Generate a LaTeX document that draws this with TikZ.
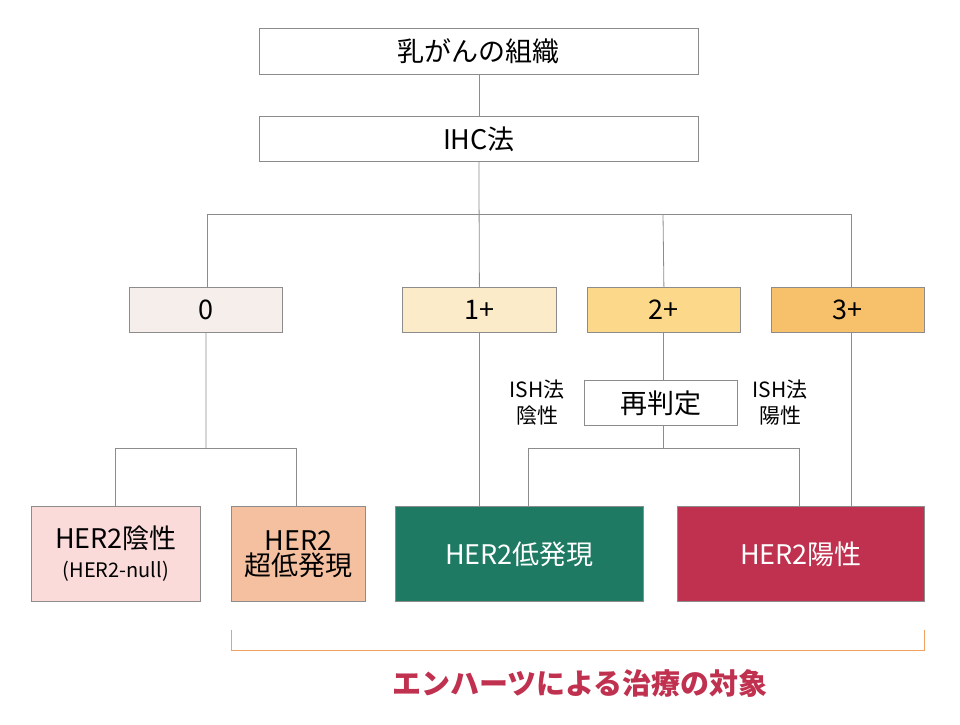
\documentclass[tikz,border=0pt]{standalone}
\usepackage{fontspec}
\setmainfont{Noto Sans CJK JP}
\begin{document}
\begin{tikzpicture}[x=1pt,y=-1pt,
 box/.style={draw=black!45,line width=0.8pt,anchor=north west,inner sep=0pt,font=\fontsize{27}{31}\selectfont,align=center},
 ln/.style={draw=black!45,line width=0.8pt}]
\useasboundingbox (0,0) rectangle (960,724);
\definecolor{c0}{HTML}{F5EEEA}\definecolor{c1}{HTML}{FCEBC8}
\definecolor{c2}{HTML}{FCD88A}\definecolor{c3}{HTML}{F7C06A}
\definecolor{cn}{HTML}{FBDADA}\definecolor{cu}{HTML}{F5C0A0}
\definecolor{cg}{HTML}{1E7A62}\definecolor{cr}{HTML}{C0304F}
\definecolor{brk}{HTML}{F0A060}
\node[box,minimum width=439,minimum height=46] (top) at (259,28) {乳がんの組織};
\node[box,minimum width=439,minimum height=45] (ihc) at (259,116) {IHC法};
\node[box,fill=c0,minimum width=153,minimum height=45] (s0) at (129,287) {0};
\node[box,fill=c1,minimum width=154,minimum height=45] (s1) at (402,287) {1+};
\node[box,fill=c2,minimum width=153,minimum height=45] (s2) at (587,287) {2+};
\node[box,fill=c3,minimum width=153,minimum height=45] (s3) at (771,287) {3+};
\node[box,minimum width=153,minimum height=45] (re) at (584,380) {再判定};
\node[box,fill=cn,minimum width=169,minimum height=95] (neg) at (31,506) {HER2陰性\\[-2pt]{\fontsize{20}{23}\selectfont (HER2-null)}};
\node[box,fill=cu,minimum width=134,minimum height=95] (ul) at (231,506) {HER2\\[-6pt]超低発現};
\node[box,fill=cg,text=white,minimum width=248,minimum height=95] (lo) at (395,506) {HER2低発現};
\node[box,fill=cr,text=white,minimum width=247,minimum height=95] (po) at (677,506) {HER2陽性};
\node[font=\fontsize{21}{26}\selectfont,align=center] (ishn) at (537,403) {ISH法\\陰性};
\node[font=\fontsize{21}{26}\selectfont,align=center] (ishp) at (780,403) {ISH法\\陽性};
\draw[ln] (top.south) -- (ihc.north);
\draw[ln] (ihc.south) -- (s1.north);
\draw[ln] (207,214) -- (851,214);
\draw[ln] (207,214) -- (207,287);
\draw[ln] (663,214) -- (s2.north);
\draw[ln] (851,214) -- (851,287);
\draw[ln] (s0.south) -- (206,448);
\draw[ln] (115,448) -- (296,448);
\draw[ln] (115,448) -- (115,506);
\draw[ln] (296,448) -- (296,506);
\draw[ln] (479,332) -- (479,506);
\draw[ln] (663,332) -- (663,380);
\draw[ln] (663,425) -- (663,448);
\draw[ln] (528,448) -- (799,448) ;
\draw[ln] (528,448) -- (528,506);
\draw[ln] (799,448) -- (799,506);
\draw[ln] (851,332) -- (851,506);
\draw[brk,line width=0.9pt] (231,630) -- (231,650) -- (924,650) -- (924,630);
\node[text=cr,font=\fontsize{29}{32}\selectfont\bfseries] (lab) at (580,683) {エンハーツによる治療の対象};
\end{tikzpicture}
\end{document}
